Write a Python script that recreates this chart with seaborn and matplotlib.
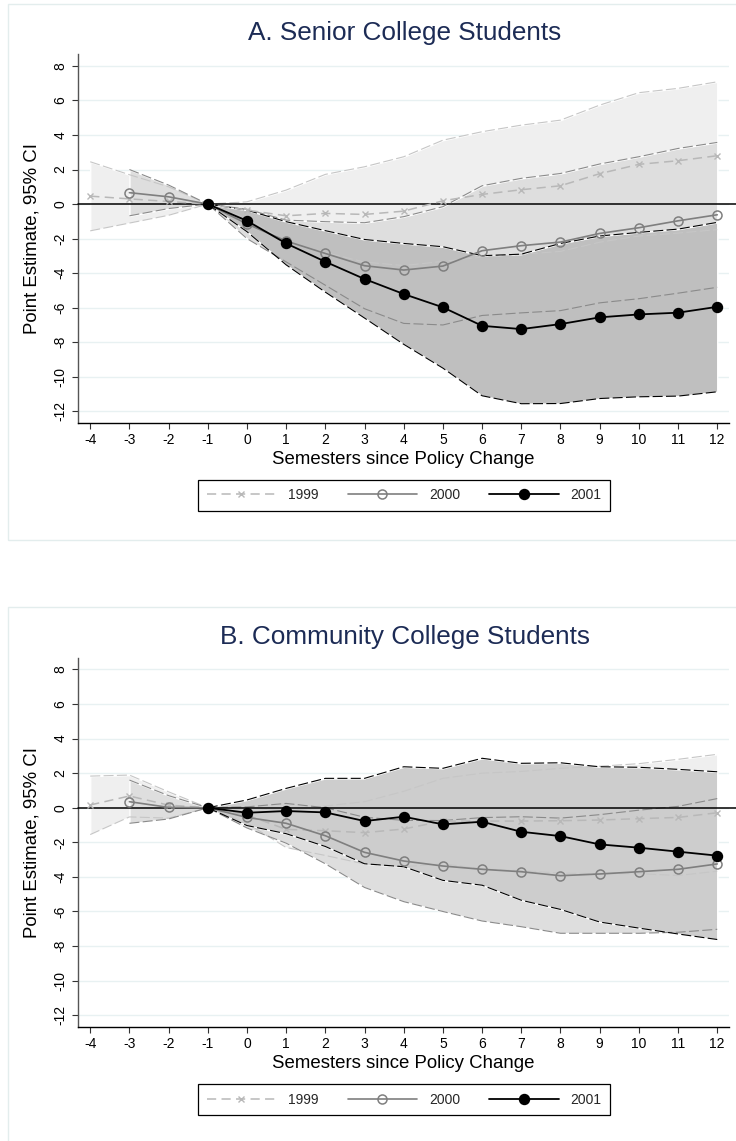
import numpy as np
import pandas as pd
import matplotlib
matplotlib.use("Agg")
import matplotlib.pyplot as plt
import seaborn as sns
from matplotlib.patches import Rectangle

sns.set_theme(style="white")
plt.rcParams['font.family'] = ['Liberation Sans', 'DejaVu Sans']
plt.rcParams['axes.unicode_minus'] = False

# ---------------- data ----------------
xticks = list(range(-4, 13))
yticks = [8, 6, 4, 2, 0, -2, -4, -6, -8, -10, -12]
cohorts = ["1999", "2000", "2001"]
titles = ["A. Senior College Students", "B. Community College Students"]
x_label = "Semesters since Policy Change"
y_label = "Point Estimate, 95% CI"

x_1999 = list(range(-4, 13))
x_2000 = list(range(-3, 13))
x_2001 = list(range(-1, 13))

# Panel A
a_1999 = [0.46, 0.30, 0.15, 0.0, -0.35, -0.68, -0.54, -0.60, -0.41, 0.19, 0.56, 0.83, 1.06, 1.76, 2.30, 2.51, 2.80]
a_1999_hi = [2.45, 1.70, 1.00, 0.0, 0.13, 0.81, 1.72, 2.16, 2.74, 3.70, 4.19, 4.57, 4.86, 5.73, 6.45, 6.70, 7.08]
a_1999_lo = [-1.55, -1.10, -0.65, 0.0, -0.83, -2.17, -2.80, -3.36, -3.56, -3.32, -3.07, -2.91, -2.74, -2.21, -1.85, -1.68, -1.48]
a_2000 = [0.66, 0.42, 0.0, -1.15, -2.14, -2.86, -3.57, -3.82, -3.59, -2.70, -2.41, -2.20, -1.70, -1.37, -0.97, -0.62]
a_2000_hi = [2.00, 1.10, 0.0, -0.30, -0.93, -1.02, -1.08, -0.73, -0.15, 1.06, 1.49, 1.77, 2.32, 2.74, 3.22, 3.57]
a_2000_lo = [-0.68, -0.26, 0.0, -2.00, -3.35, -4.70, -6.06, -6.91, -7.00, -6.45, -6.30, -6.17, -5.72, -5.48, -5.16, -4.82]
a_2001 = [0.0, -0.97, -2.28, -3.34, -4.34, -5.21, -5.98, -7.05, -7.24, -6.95, -6.56, -6.39, -6.29, -5.95]
a_2001_hi = [0.0, -0.35, -1.02, -1.54, -2.05, -2.28, -2.47, -2.99, -2.90, -2.28, -1.85, -1.64, -1.45, -1.06]
a_2001_lo = [0.0, -1.60, -3.52, -5.10, -6.60, -8.12, -9.50, -11.10, -11.56, -11.55, -11.26, -11.16, -11.12, -10.87]

# Panel B
b_1999 = [0.16, 0.68, 0.15, 0.0, -0.42, -1.25, -1.33, -1.44, -1.23, -0.77, -0.77, -0.77, -0.75, -0.71, -0.63, -0.56, -0.29]
b_1999_hi = [1.83, 1.89, 0.92, 0.0, 0.05, -0.20, 0.10, 0.35, 0.95, 1.70, 2.00, 2.10, 2.28, 2.40, 2.55, 2.80, 3.09]
b_1999_lo = [-1.55, -0.53, -0.60, 0.0, -0.90, -2.30, -2.76, -3.25, -3.41, -3.24, -3.54, -3.64, -3.78, -3.82, -3.81, -3.92, -3.67]
b_2000 = [0.35, 0.02, 0.0, -0.56, -0.90, -1.62, -2.58, -3.08, -3.37, -3.56, -3.70, -3.93, -3.83, -3.70, -3.56, -3.25]
b_2000_hi = [1.60, 0.70, 0.0, 0.05, 0.25, 0.00, -0.55, -0.73, -0.74, -0.57, -0.52, -0.60, -0.40, -0.14, 0.08, 0.53]
b_2000_lo = [-0.90, -0.65, 0.0, -1.17, -2.05, -3.24, -4.61, -5.43, -6.00, -6.55, -6.88, -7.26, -7.26, -7.26, -7.20, -7.03]
b_2001 = [0.0, -0.29, -0.19, -0.27, -0.77, -0.52, -0.96, -0.81, -1.39, -1.64, -2.12, -2.31, -2.54, -2.77]
b_2001_hi = [0.0, 0.45, 1.12, 1.70, 1.70, 2.37, 2.28, 2.86, 2.57, 2.60, 2.37, 2.34, 2.22, 2.08]
b_2001_lo = [0.0, -1.03, -1.50, -2.24, -3.24, -3.41, -4.20, -4.48, -5.35, -5.88, -6.61, -6.96, -7.30, -7.62]

panels = [
    [(x_1999, a_1999, a_1999_lo, a_1999_hi),
     (x_2000, a_2000, a_2000_lo, a_2000_hi),
     (x_2001, a_2001, a_2001_lo, a_2001_hi)],
    [(x_1999, b_1999, b_1999_lo, b_1999_hi),
     (x_2000, b_2000, b_2000_lo, b_2000_hi),
     (x_2001, b_2001, b_2001_lo, b_2001_hi)],
]

# ---------------- style ----------------
W, H = 736, 1141
fig = plt.figure(figsize=(W / 100, H / 100), dpi=100)
fig.patch.set_facecolor('white')

panel_boxes = [(8, 4, 540), (8, 607, 1160)]  # x0, top, bottom in px
axes_px = [(77.7, 54, 729, 422.7), (77.7, 658, 729, 1027)]
title_y = [33, 637]
ylims = [(-12.66, 8.69), (-12.68, 8.66)]
dark_fill = ['#bfbfbf', '#cdcdcd']
light_fills = ['#efefef', '#dedede']
bound_colors = ['#c6c6c6', '#8a8a8a', '#000000']
series_styles = [
    dict(color='#b8b8b8', marker='x', markersize=5, markeredgecolor='#b8b8b8',
         markeredgewidth=1.0, linestyle=(0, (6, 3.5)), linewidth=1.1),
    dict(color='#7f7f7f', marker='o', markersize=6.5, markerfacecolor='none',
         markeredgecolor='#7f7f7f', markeredgewidth=1.1, linestyle='-', linewidth=1.2),
    dict(color='black', marker='o', markersize=7.2, markerfacecolor='black',
         markeredgecolor='black', markeredgewidth=1.0, linestyle='-', linewidth=1.3),
]
navy = '#1c2b55'

for p, series in enumerate(panels):
    # outer panel frame
    x0, top, bot = panel_boxes[p]
    fig.add_artist(Rectangle((x0 / W, 1 - bot / H), (W + 20 - x0) / W, (bot - top) / H,
                             transform=fig.transFigure, fill=False,
                             edgecolor='#e3eded', linewidth=1.0))
    l, t, r, b = axes_px[p]
    ax = fig.add_axes([l / W, 1 - b / H, (r - l) / W, (b - t) / H])
    ax.set_facecolor('white')

    fills = light_fills + [dark_fill[p]]
    for (xs, y, lo, hi), fc in zip(series, fills):
        ax.fill_between(xs, lo, hi, facecolor=fc, edgecolor='white', linewidth=1.0, zorder=1)
    for (xs, y, lo, hi), bc in zip(series, bound_colors):
        for bnd in (lo, hi):
            ax.plot(xs, bnd, color=bc, lw=0.8, linestyle=(0, (9, 3)), zorder=2)

    ax.axhline(0, xmin=0, xmax=1.011, color='black', lw=1.1, zorder=3, clip_on=False)

    for (xs, y, lo, hi), st, name in zip(series, series_styles, cohorts):
        df = pd.DataFrame({'x': xs, 'y': y})
        sns.lineplot(data=df, x='x', y='y', ax=ax, errorbar=None, label=name,
                     zorder=5, **st)

    ax.set_xlim(-4.32, 12.30)
    ax.set_ylim(*ylims[p])
    ax.set_xticks(xticks)
    ax.set_xticklabels([str(v) for v in xticks])
    ax.set_yticks(yticks)
    ax.set_yticklabels([str(v) for v in yticks], rotation=90, va='center')
    ax.grid(axis='y', color='#e8f1f2', linewidth=1.0, zorder=0)
    ax.set_axisbelow(True)
    for s in ('top', 'right'):
        ax.spines[s].set_visible(False)
    ax.spines['left'].set_color('#555555')
    ax.spines['left'].set_linewidth(1.0)
    ax.spines['bottom'].set_color('black')
    ax.spines['bottom'].set_linewidth(1.0)
    ax.tick_params(axis='both', which='major', direction='out', length=4.3, width=0.8,
                   colors='#333333', labelcolor='black', labelsize=10, pad=3,
                   left=True, bottom=True)

    ax.set_xlabel(x_label, fontsize=13.4, color='black')
    ax.xaxis.set_label_coords(0.5, -0.100)
    ax.xaxis.label.set_va('center')
    ax.set_ylabel(y_label, fontsize=13.4, color='black')
    ax.yaxis.set_label_coords(-0.070, 0.5)
    ax.yaxis.label.set_va('center')

    fig.text(405 / W, 1 - title_y[p] / H, titles[p], ha='center', va='center',
             fontsize=18.8, color=navy)

    handles, labels = ax.get_legend_handles_labels()
    leg = ax.legend(handles, labels, loc='upper center', bbox_to_anchor=(0.501, -0.155),
                    ncol=3, fontsize=10, frameon=True, fancybox=False, shadow=False,
                    framealpha=1, edgecolor='black', borderpad=0.6, handlelength=5.0,
                    handletextpad=0.85, columnspacing=2.1, borderaxespad=0)
    leg.get_frame().set_linewidth(0.9)

fig.savefig('out.png', dpi=100, facecolor='white')
